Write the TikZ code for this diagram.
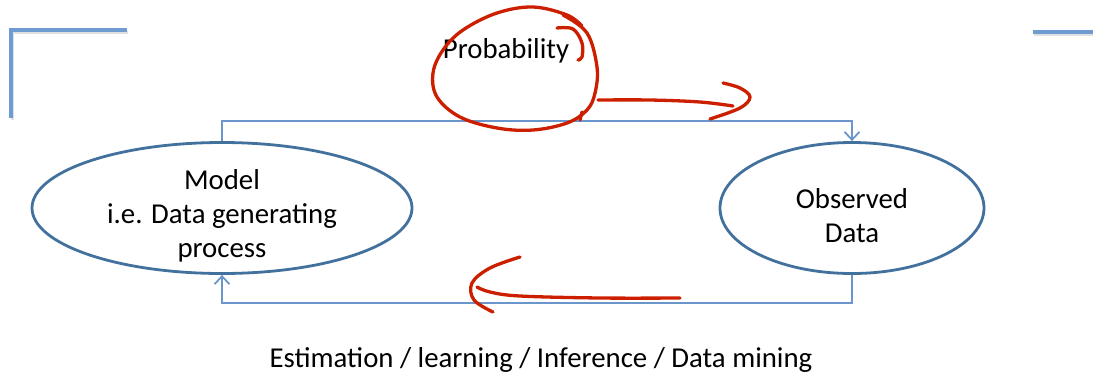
\documentclass[tikz,border=0pt]{standalone}
\usepackage{fontspec}
\setmainfont{Carlito}
\usetikzlibrary{arrows.meta,shapes.geometric}
\definecolor{elblue}{HTML}{41719C}
\definecolor{lnblue}{HTML}{6A96CC}
\definecolor{cornerblue}{HTML}{6E9BD0}
\definecolor{pen}{HTML}{CC1F00}
\tikzset{
  ell/.style={draw=elblue, line width=2.8pt, ellipse, inner sep=0pt},
  conn/.style={draw=lnblue, line width=1.1pt},
  tip/.style={-{Straight Barb[length=8pt,width=15pt,line width=1.8pt]}},
  corner/.style={draw=cornerblue, line width=3.2pt},
  pen/.style={draw=pen, line width=3.3pt, line cap=round, line join=round},
  lbl/.style={font=\fontsize{28.8}{34}\selectfont, align=center, text=black},
}
\begin{document}
\begin{tikzpicture}[x=1pt,y=-1pt]
\useasboundingbox (0,0) rectangle (1093,376);
% corner lines
\draw[draw=black!12, line width=3pt] (12.5,120) -- (12.5,32) -- (128,32);
\draw[corner] (11,118) -- (11,30) -- (127,30);
\draw[draw=black!12, line width=3pt] (1034,34) -- (1093,34);
\draw[corner] (1033,32) -- (1093,32);
% ellipses
\node[ell, minimum width=380pt, minimum height=131pt] (model) at (222,208) {};
\node[ell, minimum width=264pt, minimum height=131pt] (obs) at (852,208) {};
\node[lbl] (modeltxt) at (222,216) {Model\\i.e. Data generating\\process};
\node[lbl] (obstxt) at (852,216) {Observed\\Data};
% connectors
\draw[conn, tip] (model.north) -- (222,121) -- (852,121) -- (obs.north);
\draw[conn, tip] (obs.south) -- (852,303) -- (222,303) -- (model.south);
% texts
\node[lbl] (prob) at (506,51) {Probability};
\node[lbl] (est) at (541,360) {Estimation / learning / Inference / Data mining};
% red pen scribbles
\draw[pen] plot[smooth, tension=0.6] coordinates {(557,28) (573,29) (582,43) (582,57) (578,60)};
\draw[pen] plot[smooth, tension=0.6] coordinates {(563,15) (587,33) (597,67) (595,93) (587,110) (567,123) (533,130) (497,128) (460,117) (437,97) (433,73) (443,50) (463,30) (497,13) (533,7) (567,15) (582,26)};
\draw[pen] (580,120) -- (582,112);
\draw[pen] plot[smooth, tension=0.6] coordinates {(598,100) (650,100) (700,102) (733,106)};
\draw[pen] plot[smooth, tension=0.6] coordinates {(723,83) (740,88) (750,97) (740,108) (710,119)};
\draw[pen] plot[smooth, tension=0.6] coordinates {(680,298) (600,298) (520,296) (490,292) (477,287)};
\draw[pen] plot[smooth, tension=0.6] coordinates {(520,257) (490,268) (472,283) (474,300) (493,312)};
\end{tikzpicture}
\end{document}
